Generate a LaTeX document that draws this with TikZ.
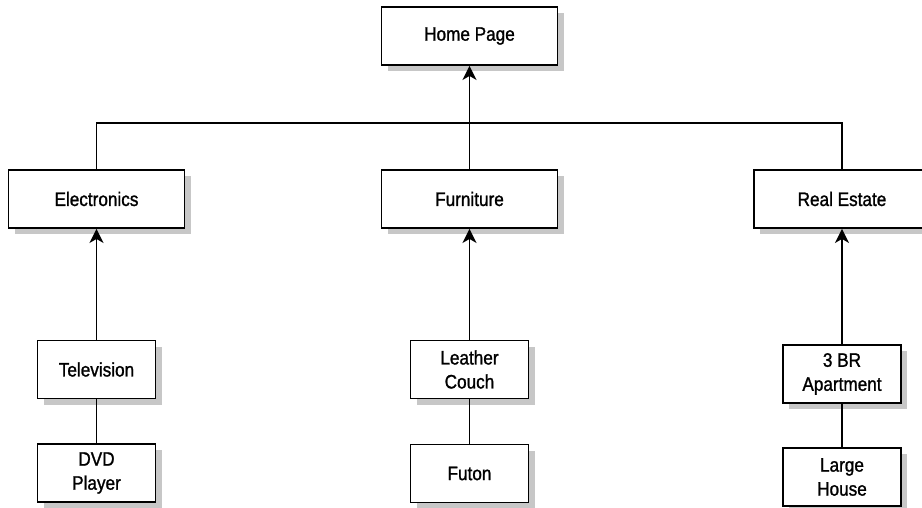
\documentclass[tikz,border=0pt]{standalone}
\usepackage{fontspec}
\setmainfont{Liberation Sans}[FakeStretch=0.88, FakeBold=1.2]
\usepackage{tikz}
\usetikzlibrary{arrows.meta}
\usetikzlibrary{shadows}

\tikzset{
  page/.style={draw, line width=1.9pt, fill=white, align=center,
    font=\fontsize{19.5}{24}\selectfont, inner sep=0pt,
    minimum width=176pt, minimum height=58pt,
    drop shadow={shadow xshift=6pt, shadow yshift=-6pt, fill=black!22, opacity=1}},
  item/.style={page, minimum width=118pt},
  link/.style={line width=1.9pt},
  uplink/.style={link, -{Stealth[length=14pt, width=14pt, inset=4pt]}}
}

\begin{document}
\begin{tikzpicture}[x=1pt, y=-1pt]
  \useasboundingbox (0,0) rectangle (922,508);
  \node[page] (home) at (469.5,36) {Home Page};
  \node[page] (elec) at (96.5,199) {Electronics};
  \node[page] (furn) at (469.5,199) {Furniture};
  \node[page] (real) at (842,199) {Real Estate};
  \node[item] (tv) at (96.5,369.5) {Television};
  \node[item] (dvd) at (96.5,473) {DVD\\Player};
  \node[item] (couch) at (469.5,369.5) {Leather\\Couch};
  \node[item] (futon) at (469.5,473.5) {Futon};
  \node[item] (apt) at (842,374) {3 BR\\Apartment};
  \node[item] (house) at (842,477) {Large\\House};
  \coordinate (bus) at (469.5,123);
  \draw[link] (elec.north) |- (bus) -| (real.north);
  \draw[uplink] (furn.north) -- (home.south);
  \draw[uplink] (tv.north) -- (elec.south);
  \draw[uplink] (couch.north) -- (furn.south);
  \draw[uplink] (apt.north) -- (real.south);
  \draw[link] (dvd.north) -- (tv.south);
  \draw[link] (futon.north) -- (couch.south);
  \draw[link] (house.north) -- (apt.south);
\end{tikzpicture}
\end{document}
